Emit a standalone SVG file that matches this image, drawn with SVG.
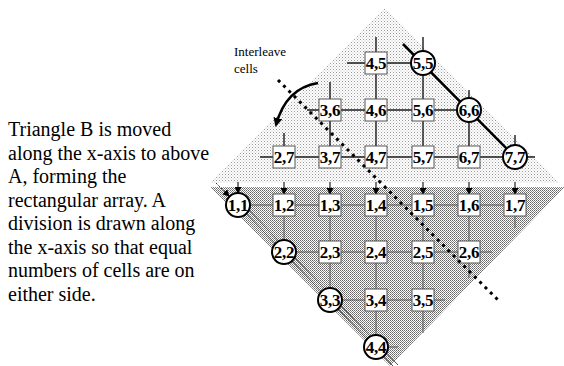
<svg xmlns="http://www.w3.org/2000/svg" width="564" height="366" viewBox="0 0 564 366">
<defs>
<pattern id="lt" width="3" height="3" patternUnits="userSpaceOnUse"><rect width="3" height="3" fill="#fff"/><rect width="1" height="1" fill="#999"/><rect x="1.5" y="1.5" width="1" height="1" fill="#bbb"/></pattern>
<pattern id="dk" width="2" height="2" patternUnits="userSpaceOnUse"><rect width="2" height="2" fill="#fff"/><rect width="1" height="1" fill="#666"/><rect x="1" y="1" width="1" height="1" fill="#888"/></pattern>
<marker id="ah" markerWidth="7" markerHeight="7" refX="6" refY="3.5" orient="auto" markerUnits="userSpaceOnUse"><path d="M0,0 L7,3.5 L0,7 Z" fill="#000"/></marker>
<marker id="ah2" markerWidth="9" markerHeight="9" refX="7" refY="4.5" orient="auto" markerUnits="userSpaceOnUse"><path d="M0,0 L9,4.5 L0,9 Z" fill="#000"/></marker>
</defs>
<style>
.up{stroke:#1a1a1a;stroke-width:1.4;fill:none}
.lo{stroke:#555;stroke-width:1;fill:none}
.ar{stroke:#222;stroke-width:1.2;marker-end:url(#ah)}
.bx rect{fill:#fff;stroke:#555;stroke-width:1}
.ci circle{fill:#fff;stroke:#000;stroke-width:2}
.lb{font-family:"Liberation Serif","Times New Roman",serif;font-weight:bold;font-size:17px;text-anchor:middle;letter-spacing:-0.3px}
.tx{font-family:"Liberation Serif","Times New Roman",serif;font-size:20px}
.sm{font-family:"Liberation Serif","Times New Roman",serif;font-size:13px}
</style>
<rect width="564" height="366" fill="#fff"/>
<polygon points="385,8 560,183 210,183" fill="url(#lt)"/>
<polygon points="210,187 565,187 390,366" fill="url(#dk)"/>
<g id="text">
<text class="tx" x="8" y="136">Triangle B is moved</text>
<text class="tx" x="8" y="159.5">along the x-axis to above</text>
<text class="tx" x="8" y="183">A, forming the</text>
<text class="tx" x="8" y="206.5">rectangular array. A</text>
<text class="tx" x="8" y="230">division is drawn along</text>
<text class="tx" x="8" y="253.5">the x-axis so that equal</text>
<text class="tx" x="8" y="277">numbers of cells are on</text>
<text class="tx" x="8" y="300.5">either side.</text>
<text class="sm" x="234" y="56">Interleave</text>
<text class="sm" x="234" y="73">cells</text>
</g>
<g id="connectors">
<line class="up" x1="347" y1="63" x2="421" y2="63"/>
<line class="up" x1="307" y1="110" x2="467" y2="110"/>
<line class="up" x1="260" y1="157" x2="535" y2="157"/>
<line class="up" x1="376" y1="37" x2="376" y2="168"/>
<line class="up" x1="423" y1="37" x2="423" y2="168"/>
<line class="up" x1="330" y1="82" x2="330" y2="168"/>
<line class="up" x1="469" y1="90" x2="469" y2="168"/>
<line class="up" x1="284" y1="133" x2="284" y2="168"/>
<line class="up" x1="515" y1="135" x2="515" y2="168"/>
<line x1="403" y1="44" x2="515" y2="157" stroke="#000" stroke-width="2.5"/>
<line class="ar" x1="238" y1="182" x2="238" y2="193"/>
<line class="ar" x1="284" y1="182" x2="284" y2="194"/>
<line class="ar" x1="330" y1="182" x2="330" y2="194"/>
<line class="ar" x1="376" y1="182" x2="376" y2="194"/>
<line class="ar" x1="423" y1="182" x2="423" y2="194"/>
<line class="ar" x1="469" y1="182" x2="469" y2="194"/>
<line class="ar" x1="515" y1="182" x2="515" y2="194"/>
<line x1="216" y1="183" x2="229" y2="196" stroke="#333" stroke-width="1" stroke-dasharray="2 1.5" marker-end="url(#ah)"/>
<path d="M318,83 Q286,88 276,125" fill="none" stroke="#000" stroke-width="2.5" marker-end="url(#ah2)"/>
<line class="lo" x1="238" y1="205" x2="515" y2="205"/>
<line class="lo" x1="284" y1="252" x2="492" y2="252"/>
<line class="lo" x1="330" y1="300" x2="445" y2="300"/>
<line class="lo" x1="376" y1="347" x2="398" y2="347"/>
<line class="lo" x1="284" y1="205" x2="284" y2="252"/>
<line class="lo" x1="330" y1="205" x2="330" y2="300"/>
<line class="lo" x1="376" y1="205" x2="376" y2="347"/>
<line class="lo" x1="423" y1="205" x2="423" y2="333"/>
<line class="lo" x1="469" y1="205" x2="469" y2="278"/>
<line class="lo" x1="515" y1="205" x2="515" y2="228"/>
<line class="lo" x1="238" y1="205" x2="393" y2="366"/>
<line class="lo" x1="243" y1="204" x2="398" y2="365"/>
</g>
<g id="n11" class="ci"><circle cx="238" cy="205" r="12"/><text class="lb" x="238" y="211">1,1</text></g>
<g id="n22" class="ci"><circle cx="284" cy="252" r="12"/><text class="lb" x="284" y="258">2,2</text></g>
<g id="n33" class="ci"><circle cx="330" cy="300" r="12"/><text class="lb" x="330" y="306">3,3</text></g>
<g id="n44" class="ci"><circle cx="376" cy="347" r="12"/><text class="lb" x="376" y="353">4,4</text></g>
<g id="n55" class="ci"><circle cx="423" cy="63" r="12"/><text class="lb" x="423" y="69">5,5</text></g>
<g id="n66" class="ci"><circle cx="469" cy="110" r="12"/><text class="lb" x="469" y="116">6,6</text></g>
<g id="n77" class="ci"><circle cx="515" cy="157" r="12"/><text class="lb" x="515" y="163">7,7</text></g>
<g id="n45" class="bx"><rect x="365" y="52" width="22" height="22"/><text class="lb" x="376" y="69">4,5</text></g>
<g id="n36" class="bx"><rect x="319" y="99" width="22" height="22"/><text class="lb" x="330" y="116">3,6</text></g>
<g id="n46" class="bx"><rect x="365" y="99" width="22" height="22"/><text class="lb" x="376" y="116">4,6</text></g>
<g id="n56" class="bx"><rect x="412" y="99" width="22" height="22"/><text class="lb" x="423" y="116">5,6</text></g>
<g id="n27" class="bx"><rect x="273" y="146" width="22" height="22"/><text class="lb" x="284" y="163">2,7</text></g>
<g id="n37" class="bx"><rect x="319" y="146" width="22" height="22"/><text class="lb" x="330" y="163">3,7</text></g>
<g id="n47" class="bx"><rect x="365" y="146" width="22" height="22"/><text class="lb" x="376" y="163">4,7</text></g>
<g id="n57" class="bx"><rect x="412" y="146" width="22" height="22"/><text class="lb" x="423" y="163">5,7</text></g>
<g id="n67" class="bx"><rect x="458" y="146" width="22" height="22"/><text class="lb" x="469" y="163">6,7</text></g>
<g id="n12" class="bx"><rect x="273" y="194" width="22" height="22"/><text class="lb" x="284" y="211">1,2</text></g>
<g id="n13" class="bx"><rect x="319" y="194" width="22" height="22"/><text class="lb" x="330" y="211">1,3</text></g>
<g id="n14" class="bx"><rect x="365" y="194" width="22" height="22"/><text class="lb" x="376" y="211">1,4</text></g>
<g id="n15" class="bx"><rect x="412" y="194" width="22" height="22"/><text class="lb" x="423" y="211">1,5</text></g>
<g id="n16" class="bx"><rect x="458" y="194" width="22" height="22"/><text class="lb" x="469" y="211">1,6</text></g>
<g id="n17" class="bx"><rect x="504" y="194" width="22" height="22"/><text class="lb" x="515" y="211">1,7</text></g>
<g id="n23" class="bx"><rect x="319" y="241" width="22" height="22"/><text class="lb" x="330" y="258">2,3</text></g>
<g id="n24" class="bx"><rect x="365" y="241" width="22" height="22"/><text class="lb" x="376" y="258">2,4</text></g>
<g id="n25" class="bx"><rect x="412" y="241" width="22" height="22"/><text class="lb" x="423" y="258">2,5</text></g>
<g id="n26" class="bx"><rect x="458" y="241" width="22" height="22"/><text class="lb" x="469" y="258">2,6</text></g>
<g id="n34" class="bx"><rect x="365" y="289" width="22" height="22"/><text class="lb" x="376" y="306">3,4</text></g>
<g id="n35" class="bx"><rect x="412" y="289" width="22" height="22"/><text class="lb" x="423" y="306">3,5</text></g>
<g id="division"><line x1="278" y1="80" x2="498" y2="300" stroke="#000" stroke-width="3" stroke-dasharray="3 4.5"/></g>
</svg>
